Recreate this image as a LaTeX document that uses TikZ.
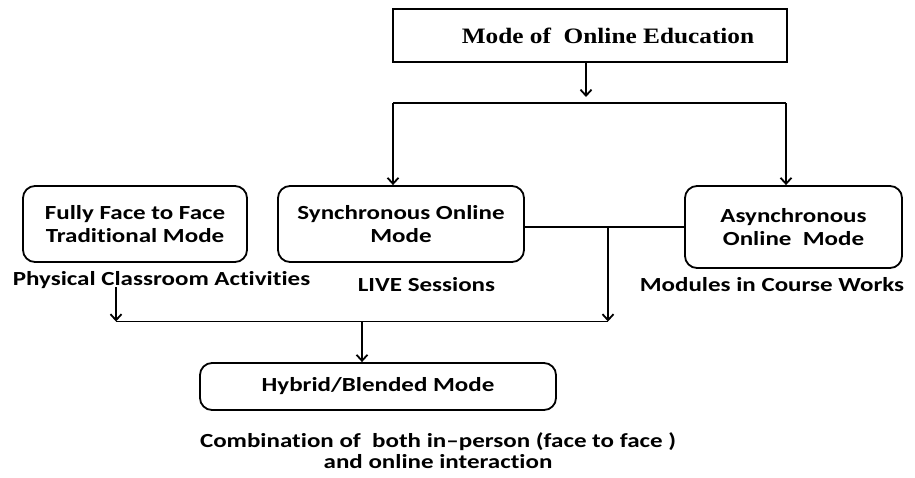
\documentclass[tikz,border=0pt]{standalone}
\usepackage{fontspec}
\setmainfont{Carlito}[FakeStretch=1.25,Ligatures=NoCommon]
\newfontfamily\titlefont{Liberation Serif}[FakeStretch=1.15]
\usetikzlibrary{arrows.meta}
\begin{document}
\begin{tikzpicture}[x=1pt,y=1pt,
  line width=1.8pt,
  every node/.style={font=\fontsize{20}{23}\selectfont\bfseries},
  rbox/.style={draw, rounded corners=12pt, align=center, inner sep=0pt},
  sbox/.style={draw, sharp corners, inner sep=0pt},
  lbl/.style={inner sep=0pt, align=center},
  arr/.style={-{Straight Barb[length=6pt,width=11pt,line width=1.8pt]}},
  ln/.style={-}
]
\useasboundingbox (0,0) rectangle (915,-477);
% nodes
\node[sbox, minimum width=394pt, minimum height=53pt,
      font=\titlefont\fontsize{22}{26}\selectfont\bfseries] (top) at (590,-35.5)
      {\hspace*{36pt}Mode of\ \ Online Education};
\node[rbox, minimum width=224pt, minimum height=76pt] (ff) at (135,-224)
      {Fully Face to Face\\Traditional Mode};
\node[rbox, minimum width=246pt, minimum height=76pt] (sync) at (401,-224)
      {Synchronous Online\\Mode};
\node[rbox, minimum width=217pt, minimum height=82pt] (async) at (793.5,-227)
      {Asynchronous\\Online\ \ Mode};
\node[rbox, minimum width=356pt, minimum height=47pt] (hyb) at (378,-386.5)
      {Hybrid/Blended Mode};
\node[lbl, anchor=base] (phys) at (161.5,-285) {Physical Classroom Activities};
\node[lbl, anchor=base] (live) at (426.5,-291) {LIVE Sessions};
\node[lbl, anchor=base] (mods) at (772,-291) {Modules in Course Works};
\node[lbl, font=\fontsize{20}{21}\selectfont\bfseries] (comb) at (438,-451)
      {Combination of\ \ both in–person (face to face )\\and online interaction};
% junction coordinates
\coordinate (t1) at (586,-97);
\coordinate (bl) at (393,-103);
\coordinate (br) at (786,-103);
\coordinate (j1) at (608,-227);
\coordinate (j2) at (608,-321.5);
\coordinate (pl) at (116,-321.5);
\coordinate (ps) at (116,-287);
\coordinate (hm) at (362,-321.5);
% connectors
\draw[arr] (top.south -| t1) -- (t1);
\draw[arr] (bl) -- (bl |- sync.north);
\draw[ln] (bl) -- (br);
\draw[arr] (br) -- (br |- async.north);
\draw[ln] (sync.east |- j1) -- (async.west |- j1);
\draw[arr] (j1) -- (j2);
\draw[arr] (ps) -- (pl);
\draw[ln] (pl) -- (j2);
\draw[arr] (hm) -- (hm |- hyb.north);
\end{tikzpicture}
\end{document}
